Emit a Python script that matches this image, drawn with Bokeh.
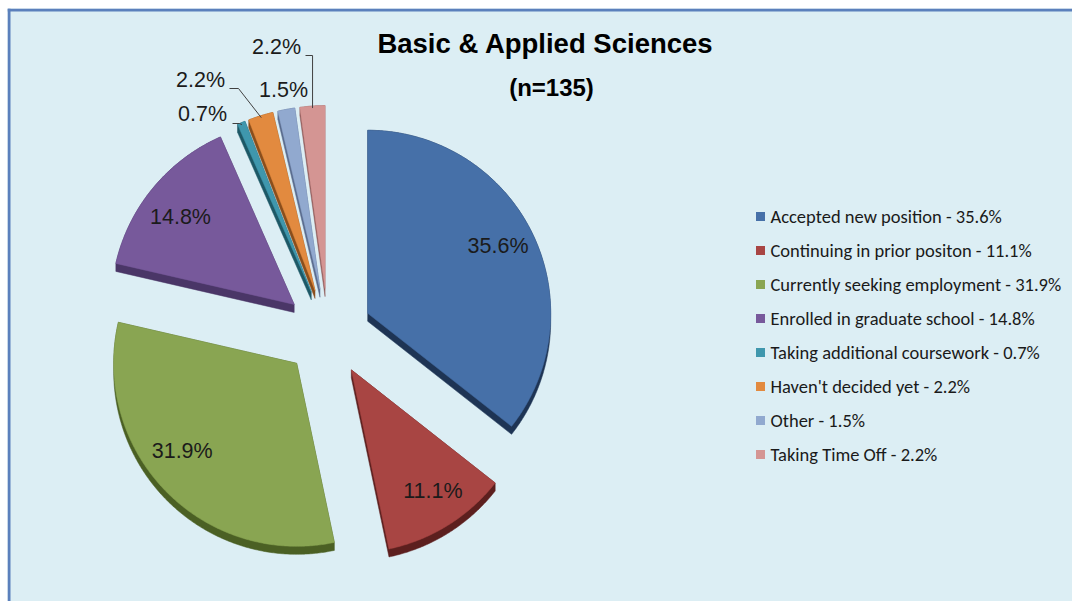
import numpy as np
from bokeh.plotting import figure
from bokeh.models import Range1d, Span
from bokeh.embed import file_html
from bokeh.resources import INLINE
from bokeh.core.properties import value

# ---------------- data ----------------
categories = ["Accepted new position", "Continuing in prior positon",
              "Currently seeking employment", "Enrolled in graduate school",
              "Taking additional coursework", "Haven't decided yet",
              "Other", "Taking Time Off"]
percents = [35.6, 11.1, 31.9, 14.8, 0.7, 2.2, 1.5, 2.2]
colors = ["#4670A8", "#A84543", "#89A552", "#77599B",
          "#3F97AD", "#E28A3F", "#91A9CF", "#D49593"]
side_colors = ["#1E3454", "#5C1F1E", "#4B6024", "#4A3667",
               "#1D5866", "#8A4E1C", "#5A6C8E", "#8C5857"]
title = "Basic & Applied Sciences"
subtitle = "(n=135)"

# ---------------- layout constants (pixel coordinates of the picture) ----------------
W, H = 1072, 601
LEFT, TOP = 7, 8
CX, CY = 327.6, 332.0
R = 183.0
EXPLODE = 44.0
DEPTH = 8.0
LABEL_DIST = 189.0
LABEL_NUDGE = [(0, -4), (5, -2), (-11, -14), (-2, 5)]
BG = "#DCEEF4"
LABEL_FONT = "'Liberation Sans'"
LEGEND_FONT = "Carlito, Calibri, Lato"

p = figure(width=W, height=H, output_backend="svg", toolbar_location=None,
           x_range=Range1d(LEFT, W), y_range=Range1d(H, TOP),
           min_border_left=LEFT, min_border_top=TOP,
           min_border_right=0, min_border_bottom=0)
p.axis.visible = False
p.grid.visible = False
p.outline_line_color = None
p.background_fill_color = BG
p.border_fill_color = "white"

p.add_layout(Span(location=9.5, dimension="width", line_color="#5B80BC", line_width=3))
p.add_layout(Span(location=8.5, dimension="height", line_color="#5B80BC", line_width=3))


def direc(a_deg):
    a = np.radians(a_deg)
    return np.sin(a), -np.cos(a)


def hull(pts):
    pts = sorted(set(map(tuple, np.round(pts, 3))))
    def cross(o, a, b):
        return (a[0]-o[0])*(b[1]-o[1]) - (a[1]-o[1])*(b[0]-o[0])
    lower, upper = [], []
    for q in pts:
        while len(lower) >= 2 and cross(lower[-2], lower[-1], q) <= 0:
            lower.pop()
        lower.append(q)
    for q in reversed(pts):
        while len(upper) >= 2 and cross(upper[-2], upper[-1], q) <= 0:
            upper.pop()
        upper.append(q)
    h = lower[:-1] + upper[:-1]
    return [q[0] for q in h], [q[1] for q in h]


total = sum(percents)
cum = np.concatenate([[0], np.cumsum(percents)]) / total * 360.0
tops_x, tops_y, sides_x, sides_y = [], [], [], []
apexes, mids = [], []
for i, v in enumerate(percents):
    a0, a1 = cum[i], cum[i + 1]
    mid = (a0 + a1) / 2
    dx, dy = direc(mid)
    ax, ay = CX + EXPLODE * dx, CY + EXPLODE * dy
    angs = np.linspace(a0, a1, max(4, int((a1 - a0) * 2)))
    xs = [ax] + [ax + R * direc(a)[0] for a in angs]
    ys = [ay] + [ay + R * direc(a)[1] for a in angs]
    tops_x.append(xs)
    tops_y.append(ys)
    pts = np.array(list(zip(xs, ys)) + [(x, y + DEPTH) for x, y in zip(xs, ys)])
    hx, hy = hull(pts)
    sides_x.append(hx)
    sides_y.append(hy)
    apexes.append((ax, ay))
    mids.append(mid)

p.patches(sides_x, sides_y, fill_color=side_colors, line_color=side_colors, line_width=0.5)
p.patches(tops_x, tops_y, fill_color=colors, line_color=colors, line_width=0.5)

# inside labels for the large slices
in_x, in_y, in_t = [], [], []
for i in range(4):
    dx, dy = direc(mids[i])
    in_x.append(CX + LABEL_DIST * dx + LABEL_NUDGE[i][0])
    in_y.append(CY + LABEL_DIST * dy + LABEL_NUDGE[i][1])
    in_t.append(f"{percents[i]}%")
p.text(in_x, in_y, text=in_t, text_align="center", text_baseline="middle",
       text_font=value(LABEL_FONT), text_font_size="21.5px", text_color="#1B1B1B")

# outside labels for the small slices (label positions are layout constants)
out_pos = {4: (202, 113), 5: (200, 79), 6: (283, 89), 7: (276, 46)}
out_x = [out_pos[i][0] for i in range(4, 8)]
out_y = [out_pos[i][1] for i in range(4, 8)]
out_t = [f"{percents[i]}%" for i in range(4, 8)]
p.text(out_x, out_y, text=out_t, text_align="center", text_baseline="middle",
       text_font=value(LABEL_FONT), text_font_size="21.5px", text_color="#1B1B1B")


def tip(i, back=2):
    ax, ay = apexes[i]
    dx, dy = direc(mids[i])
    return ax + (R - back) * dx, ay + (R - back) * dy

# leader lines
t4 = tip(4)
p.line([232, 239, t4[0]], [123, 123, t4[1]], line_color="#404040", line_width=1)
t5 = tip(5)
p.line([229, 238, t5[0]], [88, 88, t5[1]], line_color="#404040", line_width=1)
t7 = tip(7)
p.line([305, t7[0], t7[0]], [55, 55, t7[1]], line_color="#404040", line_width=1)

# title
p.text([545], [43], text=[title], text_align="center", text_baseline="middle",
       text_font=value("'Liberation Sans'"), text_font_style="bold",
       text_font_size="27.5px", text_color="#000000")
p.text([551], [87], text=[subtitle], text_align="center", text_baseline="middle",
       text_font=value("'Liberation Sans'"), text_font_style="bold",
       text_font_size="24px", text_color="#000000")

# legend
leg_y = [216 + 34 * i for i in range(len(categories))]
p.scatter([760] * len(categories), leg_y, marker="square", size=9,
          fill_color=colors, line_color=None)
p.text([770] * len(categories), leg_y,
       text=[f"{c} - {v}%" for c, v in zip(categories, percents)],
       text_align="left", text_baseline="middle",
       text_font=value(LEGEND_FONT), text_font_size="18.5px", text_color="#1A1A1A")

open("out.html", "w").write(file_html(p, INLINE))
